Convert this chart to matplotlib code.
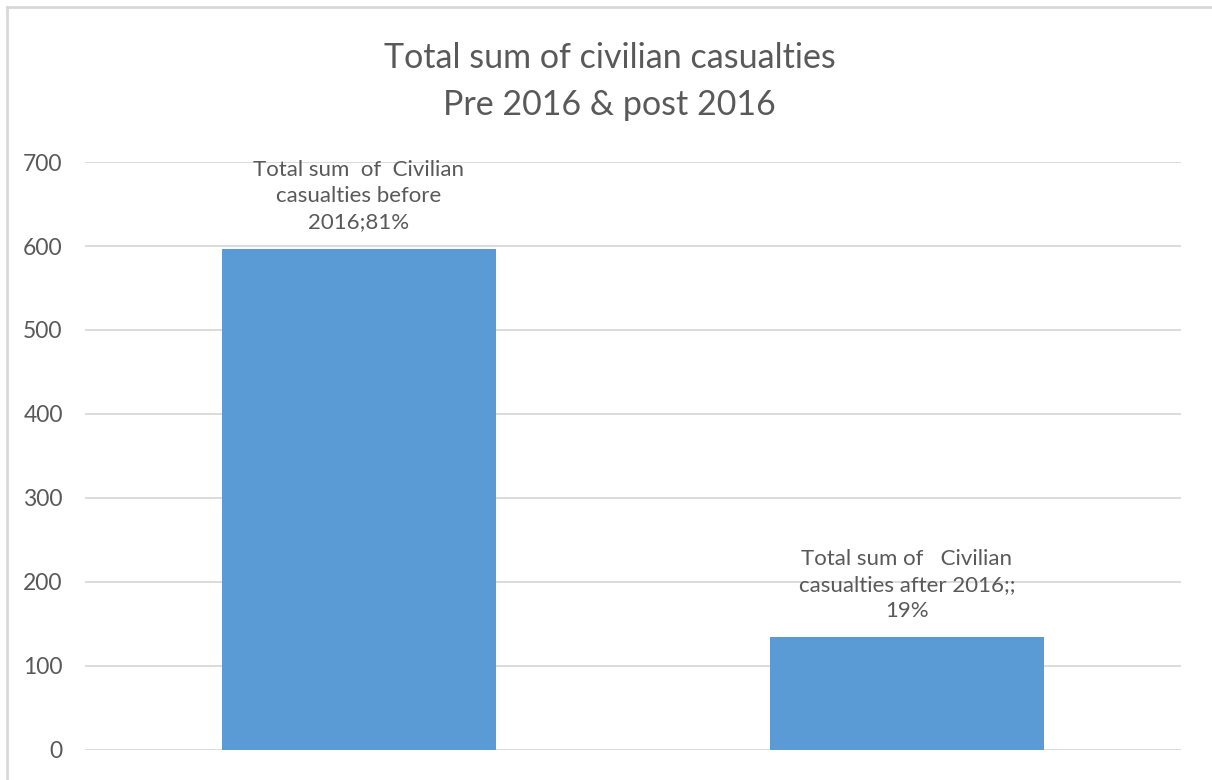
import matplotlib.pyplot as plt
from matplotlib.lines import Line2D

plt.rcParams['font.family'] = ['Lato', 'DejaVu Sans']

categories = ['Before 2016', 'After 2016']
casualties = [597, 134]
bar_labels = ['Total sum  of  Civilian\ncasualties before\n2016;81%',
              'Total sum of   Civilian\ncasualties after 2016;;\n19%']
yticks = [0, 100, 200, 300, 400, 500, 600, 700]

text_color = '#595959'
grid_color = '#D9D9D9'
bar_color = '#5B9BD5'

fig = plt.figure(figsize=(12.12, 7.80), dpi=100)
ax = fig.add_axes([0.0701, 0.0385, 0.9043, 0.7538])

x = range(len(categories))
bars = ax.bar(x, casualties, width=0.5, color=bar_color, zorder=2)

ax.set_xlim(-0.5, 1.5)
ax.set_ylim(0, 700)
ax.set_yticks(yticks)
ax.set_xticks([])
ax.yaxis.grid(True, color=grid_color, linewidth=1.3, zorder=0)
ax.tick_params(axis='y', length=0, pad=16, labelsize=16.5, labelcolor=text_color)
for s in ax.spines.values():
    s.set_visible(False)

for rect, lab in zip(bars, bar_labels):
    ax.annotate(lab, (rect.get_x() + rect.get_width() / 2, rect.get_height()),
                xytext=(0, 12), textcoords='offset points',
                ha='center', va='bottom', fontsize=16, color=text_color,
                linespacing=1.38, zorder=3)

fig.text(0.503, 0.925, 'Total sum of civilian casualties', ha='center', va='center',
         fontsize=24.5, color=text_color)
fig.text(0.503, 0.866, 'Pre 2016 & post 2016', ha='center', va='center',
         fontsize=24.5, color=text_color)

# chart frame edges
fig.add_artist(Line2D([0.0058, 0.0058], [0, 0.991], color=grid_color, linewidth=2))
fig.add_artist(Line2D([0.0058, 1], [0.991, 0.991], color=grid_color, linewidth=2))

fig.savefig('out.png', dpi=100)
